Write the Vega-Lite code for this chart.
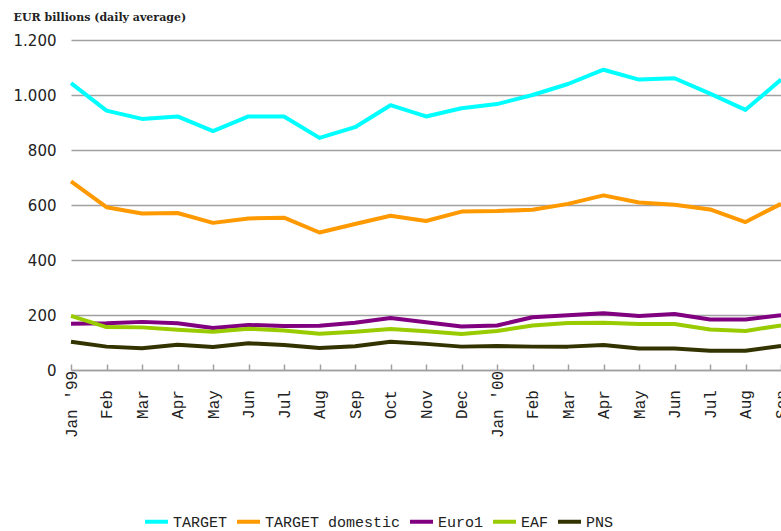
{
  "$schema": "https://vega.github.io/schema/vega-lite/v6.json",
  "width": 710,
  "height": 330,
  "autosize": {"type": "none"},
  "padding": {"left": 71, "top": 40, "right": 0, "bottom": 161},
  "background": "white",
  "config": {"view": {"stroke": null}},
  "datasets": {
    "rows": [
      {"m":"1999-01","s":"TARGET","v":1043},{"m":"1999-02","s":"TARGET","v":943},{"m":"1999-03","s":"TARGET","v":913},{"m":"1999-04","s":"TARGET","v":922},{"m":"1999-05","s":"TARGET","v":869},{"m":"1999-06","s":"TARGET","v":922},{"m":"1999-07","s":"TARGET","v":922},{"m":"1999-08","s":"TARGET","v":844},{"m":"1999-09","s":"TARGET","v":883},{"m":"1999-10","s":"TARGET","v":963},{"m":"1999-11","s":"TARGET","v":922},{"m":"1999-12","s":"TARGET","v":952},{"m":"2000-01","s":"TARGET","v":967},{"m":"2000-02","s":"TARGET","v":1000},{"m":"2000-03","s":"TARGET","v":1040},{"m":"2000-04","s":"TARGET","v":1092},{"m":"2000-05","s":"TARGET","v":1056},{"m":"2000-06","s":"TARGET","v":1061},{"m":"2000-07","s":"TARGET","v":1005},{"m":"2000-08","s":"TARGET","v":946},{"m":"2000-09","s":"TARGET","v":1056},
      {"m":"1999-01","s":"TARGET domestic","v":686},{"m":"1999-02","s":"TARGET domestic","v":592},{"m":"1999-03","s":"TARGET domestic","v":569},{"m":"1999-04","s":"TARGET domestic","v":571},{"m":"1999-05","s":"TARGET domestic","v":535},{"m":"1999-06","s":"TARGET domestic","v":551},{"m":"1999-07","s":"TARGET domestic","v":554},{"m":"1999-08","s":"TARGET domestic","v":500},{"m":"1999-09","s":"TARGET domestic","v":531},{"m":"1999-10","s":"TARGET domestic","v":561},{"m":"1999-11","s":"TARGET domestic","v":542},{"m":"1999-12","s":"TARGET domestic","v":576},{"m":"2000-01","s":"TARGET domestic","v":578},{"m":"2000-02","s":"TARGET domestic","v":583},{"m":"2000-03","s":"TARGET domestic","v":604},{"m":"2000-04","s":"TARGET domestic","v":635},{"m":"2000-05","s":"TARGET domestic","v":609},{"m":"2000-06","s":"TARGET domestic","v":601},{"m":"2000-07","s":"TARGET domestic","v":584},{"m":"2000-08","s":"TARGET domestic","v":538},{"m":"2000-09","s":"TARGET domestic","v":604},
      {"m":"1999-01","s":"Euro1","v":168},{"m":"1999-02","s":"Euro1","v":170},{"m":"1999-03","s":"Euro1","v":175},{"m":"1999-04","s":"Euro1","v":170},{"m":"1999-05","s":"Euro1","v":153},{"m":"1999-06","s":"Euro1","v":164},{"m":"1999-07","s":"Euro1","v":160},{"m":"1999-08","s":"Euro1","v":161},{"m":"1999-09","s":"Euro1","v":172},{"m":"1999-10","s":"Euro1","v":189},{"m":"1999-11","s":"Euro1","v":174},{"m":"1999-12","s":"Euro1","v":158},{"m":"2000-01","s":"Euro1","v":162},{"m":"2000-02","s":"Euro1","v":192},{"m":"2000-03","s":"Euro1","v":199},{"m":"2000-04","s":"Euro1","v":206},{"m":"2000-05","s":"Euro1","v":196},{"m":"2000-06","s":"Euro1","v":204},{"m":"2000-07","s":"Euro1","v":184},{"m":"2000-08","s":"Euro1","v":184},{"m":"2000-09","s":"Euro1","v":199},
      {"m":"1999-01","s":"EAF","v":197},{"m":"1999-02","s":"EAF","v":156},{"m":"1999-03","s":"EAF","v":155},{"m":"1999-04","s":"EAF","v":146},{"m":"1999-05","s":"EAF","v":139},{"m":"1999-06","s":"EAF","v":150},{"m":"1999-07","s":"EAF","v":144},{"m":"1999-08","s":"EAF","v":132},{"m":"1999-09","s":"EAF","v":139},{"m":"1999-10","s":"EAF","v":149},{"m":"1999-11","s":"EAF","v":141},{"m":"1999-12","s":"EAF","v":131},{"m":"2000-01","s":"EAF","v":142},{"m":"2000-02","s":"EAF","v":162},{"m":"2000-03","s":"EAF","v":171},{"m":"2000-04","s":"EAF","v":172},{"m":"2000-05","s":"EAF","v":167},{"m":"2000-06","s":"EAF","v":167},{"m":"2000-07","s":"EAF","v":147},{"m":"2000-08","s":"EAF","v":142},{"m":"2000-09","s":"EAF","v":162},
      {"m":"1999-01","s":"PNS","v":103},{"m":"1999-02","s":"PNS","v":85},{"m":"1999-03","s":"PNS","v":79},{"m":"1999-04","s":"PNS","v":92},{"m":"1999-05","s":"PNS","v":84},{"m":"1999-06","s":"PNS","v":97},{"m":"1999-07","s":"PNS","v":91},{"m":"1999-08","s":"PNS","v":80},{"m":"1999-09","s":"PNS","v":86},{"m":"1999-10","s":"PNS","v":103},{"m":"1999-11","s":"PNS","v":95},{"m":"1999-12","s":"PNS","v":85},{"m":"2000-01","s":"PNS","v":87},{"m":"2000-02","s":"PNS","v":85},{"m":"2000-03","s":"PNS","v":85},{"m":"2000-04","s":"PNS","v":91},{"m":"2000-05","s":"PNS","v":78},{"m":"2000-06","s":"PNS","v":78},{"m":"2000-07","s":"PNS","v":70},{"m":"2000-08","s":"PNS","v":70},{"m":"2000-09","s":"PNS","v":87}
    ]
  },
  "data": {"name": "rows"},
  "mark": {"type": "line", "strokeWidth": 4, "strokeJoin": "round", "clip": false},
  "encoding": {
    "x": {
      "field": "m",
      "type": "ordinal",
      "sort": "ascending",
      "scale": {"type": "point", "padding": 0},
      "axis": {
        "title": null,
        "grid": false,
        "domainColor": "#a0a0a0",
        "domainWidth": 1.5,
        "tickColor": "#a0a0a0",
        "tickWidth": 1.5,
        "tickSize": -6,
        "labelAngle": -90,
        "labelAlign": "center",
        "labelBaseline": "middle",
        "labelPadding": 40,
        "labelFont": "Liberation Mono",
        "labelFontSize": 16,
        "labelColor": "#222222",
        "labelOverlap": false,
        "labelExpr": "slice(datum.value,5)=='01' ? ('Jan \\'' + slice(datum.value,2,4)) : ['','Jan','Feb','Mar','Apr','May','Jun','Jul','Aug','Sep','Oct','Nov','Dec'][toNumber(slice(datum.value,5))]"
      }
    },
    "y": {
      "field": "v",
      "type": "quantitative",
      "scale": {"domain": [0, 1200], "nice": false, "zero": true},
      "axis": {
        "values": [0, 200, 400, 600, 800, 1000, 1200],
        "labelExpr": "replace(format(datum.value, ','), ',', '.')",
        "domain": false,
        "ticks": false,
        "grid": true,
        "gridColor": "#a0a0a0",
        "gridWidth": 1.5,
        "labelFont": "DejaVu Sans",
        "labelFontSize": 15,
        "labelColor": "#222222",
        "labelPadding": 15,
        "title": "EUR billions (daily average)",
        "titleAngle": 0,
        "titleAlign": "left",
        "titleBaseline": "middle",
        "titleX": -58,
        "titleY": -23,
        "titleFont": "DejaVu Serif",
        "titleFontWeight": "bold",
        "titleFontSize": 11,
        "titleColor": "#222222"
      }
    },
    "color": {
      "field": "s",
      "type": "nominal",
      "sort": ["TARGET", "TARGET domestic", "Euro1", "EAF", "PNS"],
      "scale": {
        "domain": ["TARGET", "TARGET domestic", "Euro1", "EAF", "PNS"],
        "range": ["#00FFFF", "#FF9900", "#800080", "#99CC00", "#333300"]
      },
      "legend": {
        "title": null,
        "orient": "none",
        "direction": "horizontal",
        "legendX": 72,
        "legendY": 468,
        "padding": 0,
        "symbolType": "stroke",
        "symbolStrokeWidth": 4,
        "symbolSize": 529,
        "labelFont": "Liberation Mono",
        "labelFontSize": 15,
        "labelColor": "#222222",
        "labelOffset": 3,
        "columnPadding": 1
      }
    }
  }
}
